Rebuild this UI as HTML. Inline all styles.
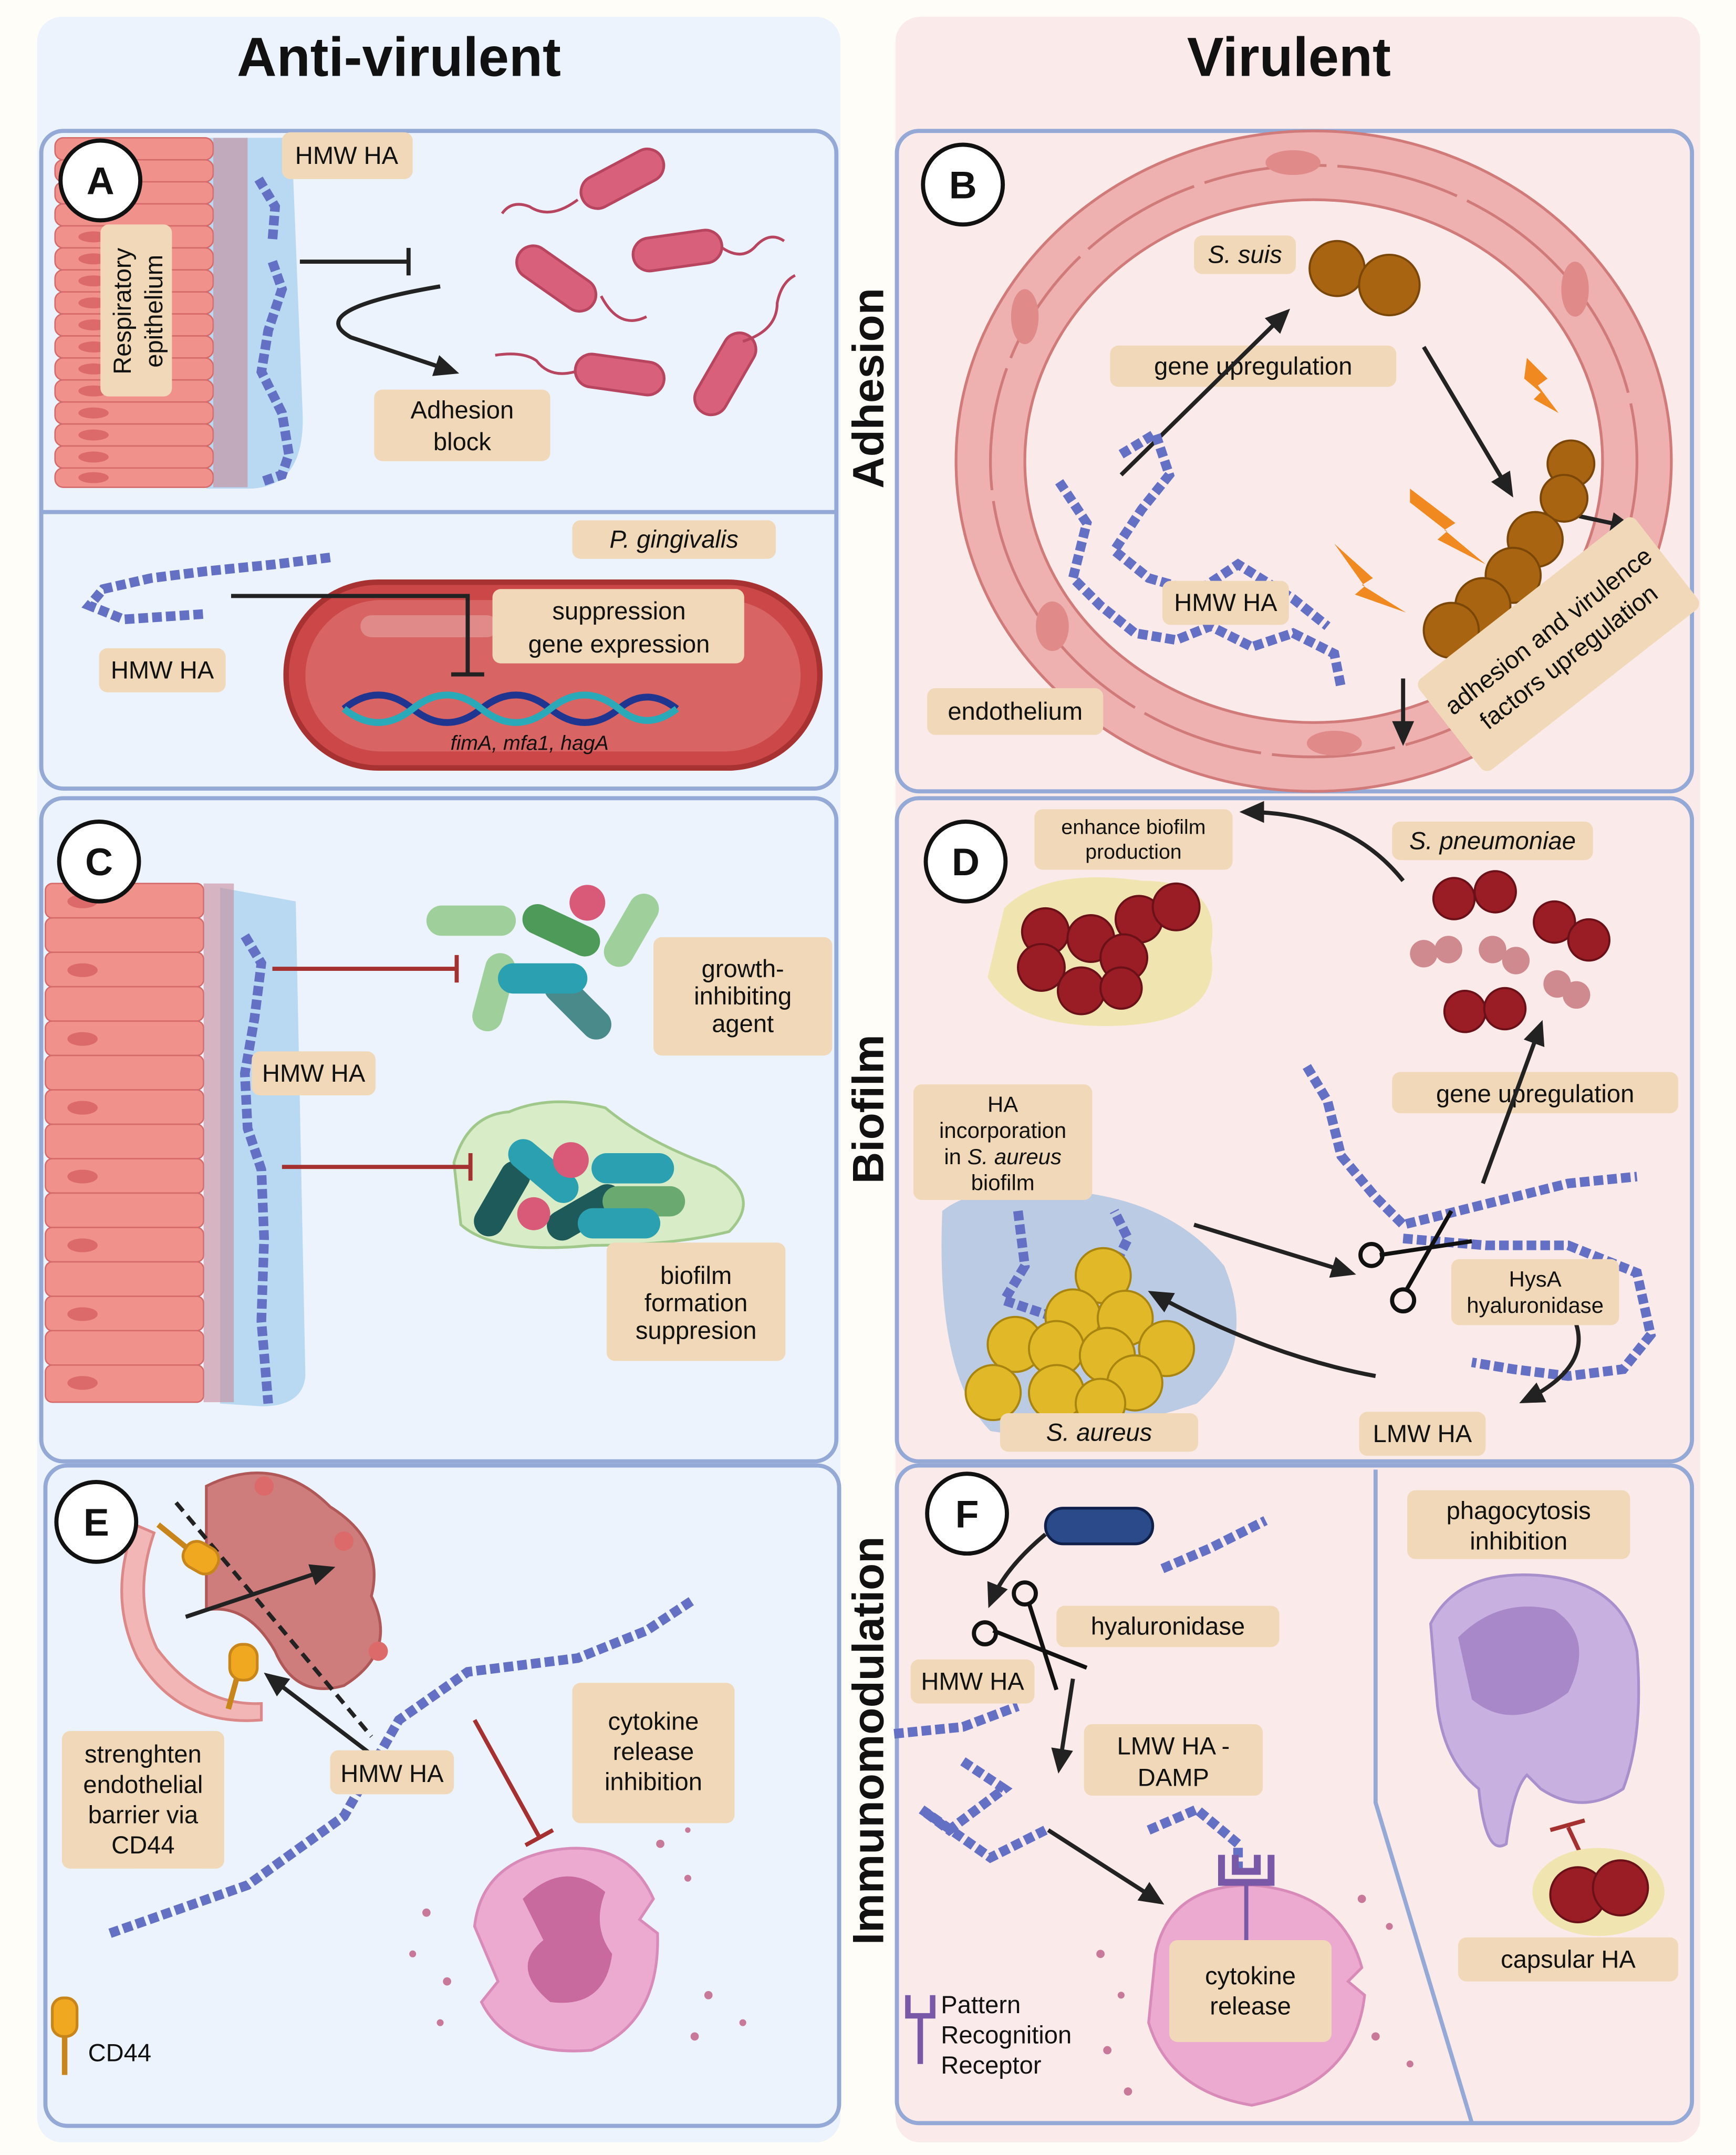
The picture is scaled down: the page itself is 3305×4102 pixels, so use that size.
<!DOCTYPE html>
<html><head><meta charset="utf-8"><style>
html,body{margin:0;padding:0;background:#fff}
svg{display:block}
text{font-family:"Liberation Sans",Arial,sans-serif;fill:#111}
.lb{fill:#f0d8b8}
.ha{fill:none;stroke:#6470c4;stroke-width:7;stroke-dasharray:7 3}
.panel{fill:none;stroke:#94a9d6;stroke-width:3}
.cell{fill:#f0918c;stroke:#d46a6a;stroke-width:1}
.nuc{fill:#dc6a6a}
.bact{fill:#d8607a;stroke:#b84560;stroke-width:2}
.ar{stroke:#222;stroke-width:3;fill:none}
.rd{stroke:#a53030;stroke-width:3;fill:none}
.t{font-size:18px}
</style></head><body>
<svg width="3305" height="4102" viewBox="0 0 1262 1566" xmlns="http://www.w3.org/2000/svg">
<defs>
<marker id="ah2" markerWidth="20" markerHeight="20" refX="14" refY="10" orient="auto" markerUnits="userSpaceOnUse"><path d="M0,2 L18,10 L0,18 z" fill="#222"/></marker>
</defs>
<rect width="1262" height="1566" fill="#fffdf7"/>
<rect x="27" y="12" width="584" height="1545" rx="18" fill="#ecf3fc"/>
<rect x="651" y="12" width="585" height="1545" rx="18" fill="#fbeaea"/>
<text x="290" y="55" font-size="40" font-weight="bold" text-anchor="middle">Anti-virulent</text>
<text x="937" y="55" font-size="40" font-weight="bold" text-anchor="middle">Virulent</text>
<text transform="translate(642,282) rotate(-90)" font-size="32" font-weight="bold" text-anchor="middle">Adhesion</text>
<text transform="translate(642,806) rotate(-90)" font-size="32" font-weight="bold" text-anchor="middle">Biofilm</text>
<text transform="translate(642,1265) rotate(-90)" font-size="32" font-weight="bold" text-anchor="middle">Immunomodulation</text>

<!-- Panel A -->
<rect x="30" y="95" width="578" height="478" rx="16" fill="#edf4fd" class="panel"/>
<line x1="30" y1="372" x2="608" y2="372" stroke="#94a9d6" stroke-width="3"/>
<path d="M150,100 L212,100 L220,300 Q222,355 180,355 L150,355 Z" fill="#b9d9f3"/>
<g>
<rect class="cell" x="40" y="100" width="115" height="16" rx="6"/><rect class="cell" x="40" y="116" width="115" height="16" rx="6"/><rect class="cell" x="40" y="132" width="115" height="16" rx="6"/><rect class="cell" x="40" y="148" width="115" height="16" rx="6"/><rect class="cell" x="40" y="164" width="115" height="16" rx="6"/><rect class="cell" x="40" y="180" width="115" height="16" rx="6"/><rect class="cell" x="40" y="196" width="115" height="16" rx="6"/><rect class="cell" x="40" y="212" width="115" height="16" rx="6"/><rect class="cell" x="40" y="228" width="115" height="16" rx="6"/><rect class="cell" x="40" y="244" width="115" height="16" rx="6"/><rect class="cell" x="40" y="260" width="115" height="16" rx="6"/><rect class="cell" x="40" y="276" width="115" height="16" rx="6"/><rect class="cell" x="40" y="292" width="115" height="16" rx="6"/><rect class="cell" x="40" y="308" width="115" height="16" rx="6"/><rect class="cell" x="40" y="324" width="115" height="16" rx="6"/><rect class="cell" x="40" y="340" width="115" height="14" rx="6"/>
<g class="nuc"><ellipse cx="68" cy="124" rx="11" ry="4"/><ellipse cx="68" cy="140" rx="11" ry="4"/><ellipse cx="68" cy="156" rx="11" ry="4"/><ellipse cx="68" cy="172" rx="11" ry="4"/><ellipse cx="68" cy="188" rx="11" ry="4"/><ellipse cx="68" cy="204" rx="11" ry="4"/><ellipse cx="68" cy="220" rx="11" ry="4"/><ellipse cx="68" cy="236" rx="11" ry="4"/><ellipse cx="68" cy="252" rx="11" ry="4"/><ellipse cx="68" cy="268" rx="11" ry="4"/><ellipse cx="68" cy="284" rx="11" ry="4"/><ellipse cx="68" cy="300" rx="11" ry="4"/><ellipse cx="68" cy="316" rx="11" ry="4"/><ellipse cx="68" cy="332" rx="11" ry="4"/><ellipse cx="68" cy="347" rx="11" ry="4"/></g>
<rect x="155" y="100" width="25" height="254" fill="#c88a9a" opacity="0.6"/>
</g>
<path class="ha" d="M198,190 L205,210 L195,240 L190,270 L205,300 L210,330 L205,345 L190,350"/>
<path class="ha" d="M188,130 L200,150 L198,175"/>
<rect class="lb" x="73" y="163" width="52" height="125" rx="6"/>
<text transform="translate(95,226) rotate(-90)" class="t" text-anchor="middle">Respiratory</text>
<text transform="translate(118,226) rotate(-90)" class="t" text-anchor="middle">epithelium</text>
<circle cx="73" cy="131" r="29" fill="#fff" stroke="#111" stroke-width="3"/>
<text x="73" y="141" font-size="28" font-weight="bold" text-anchor="middle">A</text>
<rect class="lb" x="205" y="96" width="95" height="34" rx="6"/>
<text x="252" y="119" class="t" text-anchor="middle">HMW HA</text>
<line class="ar" x1="218" y1="190" x2="297" y2="190"/><line class="ar" x1="297" y1="180" x2="297" y2="200"/>
<path class="ar" d="M320,208 Q220,225 255,245 L330,270" marker-end="url(#ah2)"/>
<rect class="lb" x="272" y="283" width="128" height="52" rx="6"/>
<text x="336" y="304" class="t" text-anchor="middle">Adhesion</text>
<text x="336" y="327" class="t" text-anchor="middle">block</text>
<g class="bact">
<rect x="420" y="118" width="65" height="24" rx="12" transform="rotate(-28 452 130)"/>
<rect x="372" y="190" width="65" height="24" rx="12" transform="rotate(35 404 202)"/>
<rect x="460" y="170" width="65" height="24" rx="12" transform="rotate(-8 492 182)"/>
<rect x="418" y="260" width="65" height="24" rx="12" transform="rotate(8 450 272)"/>
<rect x="495" y="260" width="65" height="24" rx="12" transform="rotate(-60 527 272)"/>
</g>
<g fill="none" stroke="#b84560" stroke-width="2">
<path d="M420,145 Q400,160 385,150 Q372,145 365,155"/><path d="M437,215 Q450,240 470,230"/>
<path d="M525,180 Q540,190 550,178 Q560,168 570,175"/><path d="M418,270 Q400,275 390,262 Q380,255 360,258"/>
<path d="M540,248 Q565,240 565,220 Q568,205 578,200"/>
</g>
<rect class="lb" x="416" y="378" width="148" height="28" rx="6"/>
<text x="490" y="398" class="t" font-style="italic" text-anchor="middle">P. gingivalis</text>
<path class="ha" d="M240,405 L200,410 L150,415 L110,420 L75,428 L65,440 L90,450 L150,446"/>
<rect class="lb" x="72" y="471" width="92" height="32" rx="6"/>
<text x="118" y="493" class="t" text-anchor="middle">HMW HA</text>
<rect x="208" y="423" width="388" height="135" rx="67" fill="#cc4848" stroke="#a83232" stroke-width="4"/>
<rect x="222" y="436" width="360" height="110" rx="55" fill="#d86464"/>
<rect x="262" y="447" width="100" height="16" rx="8" fill="#e69a9a" opacity="0.7"/>
<path class="ar" d="M168,433 L340,433 L340,490"/><line class="ar" x1="328" y1="490" x2="352" y2="490"/>
<rect class="lb" x="358" y="428" width="183" height="54" rx="6"/>
<text x="450" y="450" class="t" text-anchor="middle">suppression</text>
<text x="450" y="474" class="t" text-anchor="middle">gene expression</text>
<path d="M250,515 Q275,495 300,515 Q325,535 350,515 Q375,495 400,515 Q425,535 450,515 Q470,498 492,515" stroke="#1f3590" stroke-width="5" fill="none"/>
<path d="M250,515 Q275,535 300,515 Q325,495 350,515 Q375,535 400,515 Q425,495 450,515 Q470,532 492,515" stroke="#2aaab8" stroke-width="5" fill="none"/>
<text x="385" y="545" font-size="15" font-style="italic" text-anchor="middle">fimA, mfa1, hagA</text>

<!-- Panel C -->
<rect x="30" y="580" width="578" height="482" rx="16" fill="#edf4fd" class="panel"/>
<path d="M160,645 L215,655 L222,1000 Q220,1022 190,1022 L160,1020 Z" fill="#b9d9f3"/>
<g>
<rect class="cell" x="33" y="642" width="115" height="25" rx="5"/><rect class="cell" x="33" y="667" width="115" height="25" rx="5"/><rect class="cell" x="33" y="692" width="115" height="25" rx="5"/><rect class="cell" x="33" y="717" width="115" height="25" rx="5"/><rect class="cell" x="33" y="742" width="115" height="25" rx="5"/><rect class="cell" x="33" y="767" width="115" height="25" rx="5"/><rect class="cell" x="33" y="792" width="115" height="25" rx="5"/><rect class="cell" x="33" y="817" width="115" height="25" rx="5"/><rect class="cell" x="33" y="842" width="115" height="25" rx="5"/><rect class="cell" x="33" y="867" width="115" height="25" rx="5"/><rect class="cell" x="33" y="892" width="115" height="25" rx="5"/><rect class="cell" x="33" y="917" width="115" height="25" rx="5"/><rect class="cell" x="33" y="942" width="115" height="25" rx="5"/><rect class="cell" x="33" y="967" width="115" height="25" rx="5"/><rect class="cell" x="33" y="992" width="115" height="27" rx="5"/>
<g class="nuc"><ellipse cx="60" cy="655" rx="11" ry="5"/><ellipse cx="60" cy="705" rx="11" ry="5"/><ellipse cx="60" cy="755" rx="11" ry="5"/><ellipse cx="60" cy="805" rx="11" ry="5"/><ellipse cx="60" cy="855" rx="11" ry="5"/><ellipse cx="60" cy="905" rx="11" ry="5"/><ellipse cx="60" cy="955" rx="11" ry="5"/><ellipse cx="60" cy="1005" rx="11" ry="5"/></g>
<rect x="148" y="642" width="22" height="377" fill="#c88a9a" opacity="0.6"/>
</g>
<path class="ha" d="M178,680 L190,700 L185,740 L178,780 L180,820 L190,850 L192,900 L190,960 L195,1020"/>
<circle cx="72" cy="626" r="29" fill="#fff" stroke="#111" stroke-width="3"/>
<text x="72" y="636" font-size="28" font-weight="bold" text-anchor="middle">C</text>
<rect class="lb" x="183" y="764" width="90" height="32" rx="6"/>
<text x="228" y="786" class="t" text-anchor="middle">HMW HA</text>
<g>
<rect x="310" y="658" width="65" height="22" rx="11" fill="#9fcf9a"/>
<rect x="378" y="665" width="60" height="22" rx="11" fill="#4e9a58" transform="rotate(25 408 676)"/>
<rect x="430" y="665" width="58" height="22" rx="11" fill="#9fcf9a" transform="rotate(-60 459 676)"/>
<rect x="330" y="710" width="58" height="22" rx="11" fill="#9fcf9a" transform="rotate(-75 359 721)"/>
<rect x="390" y="720" width="60" height="22" rx="11" fill="#4b8a8a" transform="rotate(45 420 731)"/>
<rect x="362" y="700" width="65" height="22" rx="11" fill="#2aa0b0"/>
<circle cx="427" cy="656" r="13" fill="#d85a78"/>
</g>
<path d="M330,845 Q340,810 370,808 Q400,795 440,805 Q470,830 520,848 Q555,870 530,895 Q490,905 430,905 Q360,912 335,890 Z" fill="#d8ecc8" stroke="#9fc88a" stroke-width="2"/>
<g>
<rect x="335" y="860" width="60" height="22" rx="11" fill="#1f5a5a" transform="rotate(-60 365 871)"/>
<rect x="395" y="870" width="60" height="22" rx="11" fill="#1f5a5a" transform="rotate(-30 425 881)"/>
<rect x="430" y="838" width="60" height="22" rx="11" fill="#2aa0b0"/>
<rect x="438" y="862" width="60" height="22" rx="11" fill="#6aaa70"/>
<rect x="420" y="878" width="60" height="22" rx="11" fill="#2aa0b0"/>
<rect x="365" y="840" width="60" height="22" rx="11" fill="#2aa0b0" transform="rotate(40 395 851)"/>
<circle cx="415" cy="843" r="13" fill="#d85a78"/><circle cx="388" cy="882" r="12" fill="#d85a78"/>
</g>
<line class="rd" x1="198" y1="704" x2="332" y2="704"/><line class="rd" x1="332" y1="694" x2="332" y2="714"/>
<line class="rd" x1="205" y1="848" x2="342" y2="848"/><line class="rd" x1="342" y1="838" x2="342" y2="858"/>
<rect class="lb" x="475" y="681" width="130" height="86" rx="6"/>
<text x="540" y="710" class="t" text-anchor="middle">growth-</text>
<text x="540" y="730" class="t" text-anchor="middle">inhibiting</text>
<text x="540" y="750" class="t" text-anchor="middle">agent</text>
<rect class="lb" x="441" y="903" width="130" height="86" rx="6"/>
<text x="506" y="933" class="t" text-anchor="middle">biofilm</text>
<text x="506" y="953" class="t" text-anchor="middle">formation</text>
<text x="506" y="973" class="t" text-anchor="middle">suppresion</text>

<!-- Panel E -->
<rect x="33" y="1065" width="577" height="480" rx="16" fill="#edf4fd" class="panel"/>
<path d="M150,1080 Q200,1055 240,1095 Q280,1120 270,1160 Q290,1200 250,1225 Q215,1235 200,1200 Q180,1165 150,1170 Z" fill="#cf7c7c" stroke="#b05858" stroke-width="2"/>
<path d="M98,1108 Q78,1160 100,1205 Q130,1255 190,1250 L190,1238 Q145,1240 114,1198 Q96,1160 112,1114 Z" fill="#f3b6b6" stroke="#d88" stroke-width="2"/>
<g class="nuc"><circle cx="192" cy="1080" r="7"/><circle cx="250" cy="1120" r="7"/><circle cx="275" cy="1200" r="7"/></g>
<line x1="128" y1="1092" x2="270" y2="1262" stroke="#222" stroke-width="3" stroke-dasharray="8 5"/>
<line class="ar" x1="135" y1="1175" x2="240" y2="1140" marker-end="url(#ah2)"/>
<line class="ar" x1="270" y1="1275" x2="195" y2="1218" marker-end="url(#ah2)"/>
<g fill="#f0a820" stroke="#c8851a" stroke-width="2"><rect x="133" y="1122" width="26" height="20" rx="9" transform="rotate(30 146 1132)"/><rect x="167" y="1195" width="20" height="26" rx="9"/></g>
<line x1="115" y1="1108" x2="136" y2="1125" stroke="#c8851a" stroke-width="4"/><line x1="172" y1="1220" x2="166" y2="1242" stroke="#c8851a" stroke-width="4"/>
<path class="ha" d="M80,1405 L180,1370 L250,1320 L290,1250 L340,1215 L420,1205 L470,1185 L505,1162"/>
<circle cx="70" cy="1106" r="29" fill="#fff" stroke="#111" stroke-width="3"/>
<text x="70" y="1116" font-size="28" font-weight="bold" text-anchor="middle">E</text>
<rect class="lb" x="45" y="1258" width="118" height="100" rx="6"/>
<text x="104" y="1281" class="t" text-anchor="middle">strenghten</text>
<text x="104" y="1303" class="t" text-anchor="middle">endothelial</text>
<text x="104" y="1325" class="t" text-anchor="middle">barrier via</text>
<text x="104" y="1347" class="t" text-anchor="middle">CD44</text>
<rect class="lb" x="240" y="1272" width="90" height="32" rx="6"/>
<text x="285" y="1295" class="t" text-anchor="middle">HMW HA</text>
<rect class="lb" x="416" y="1223" width="118" height="102" rx="6"/>
<text x="475" y="1257" class="t" text-anchor="middle">cytokine</text>
<text x="475" y="1279" class="t" text-anchor="middle">release</text>
<text x="475" y="1301" class="t" text-anchor="middle">inhibition</text>
<line class="rd" x1="345" y1="1250" x2="392" y2="1335"/><line class="rd" x1="382" y1="1341" x2="402" y2="1330"/>
<path d="M345,1400 Q350,1355 400,1345 Q455,1335 475,1380 L465,1395 L478,1405 Q480,1470 430,1490 Q370,1495 350,1455 L362,1440 Z" fill="#ecaad0" stroke="#d88ab8" stroke-width="2"/>
<path d="M380,1380 Q410,1350 440,1375 Q430,1400 445,1420 Q440,1460 400,1455 Q370,1430 395,1410 Z" fill="#c86a9e"/>
<g fill="#c87898"><circle cx="310" cy="1390" r="3"/><circle cx="300" cy="1420" r="2.5"/><circle cx="325" cy="1440" r="3"/><circle cx="480" cy="1340" r="3"/><circle cx="500" cy="1365" r="2.5"/><circle cx="515" cy="1450" r="3"/><circle cx="540" cy="1470" r="2.5"/><circle cx="505" cy="1480" r="3"/><circle cx="320" cy="1470" r="2.5"/><circle cx="500" cy="1330" r="2"/></g>
<rect x="38" y="1452" width="18" height="28" rx="8" fill="#f0a820" stroke="#c8851a" stroke-width="2"/>
<line x1="47" y1="1480" x2="47" y2="1508" stroke="#c8851a" stroke-width="4"/>
<text x="64" y="1498" class="t">CD44</text>

<!-- Panel B -->
<rect x="652" y="95" width="578" height="480" rx="16" fill="#fbeaea" class="panel"/>
<ellipse cx="955" cy="335" rx="235" ry="215" fill="none" stroke="#efb0b0" stroke-width="50"/>
<ellipse cx="955" cy="335" rx="235" ry="215" fill="none" stroke="#d07a7a" stroke-width="2" stroke-dasharray="90 8"/>
<ellipse cx="955" cy="335" rx="210" ry="190" fill="none" stroke="#d07a7a" stroke-width="2"/>
<ellipse cx="955" cy="335" rx="260" ry="240" fill="none" stroke="#d07a7a" stroke-width="2"/>
<g fill="#e08a8a"><ellipse cx="940" cy="118" rx="20" ry="9"/><ellipse cx="745" cy="230" rx="10" ry="20"/><ellipse cx="1145" cy="210" rx="10" ry="20"/><ellipse cx="765" cy="455" rx="12" ry="18"/><ellipse cx="970" cy="540" rx="20" ry="9"/></g>
<circle cx="700" cy="134" r="29" fill="#fff" stroke="#111" stroke-width="3"/>
<text x="700" y="144" font-size="28" font-weight="bold" text-anchor="middle">B</text>
<rect class="lb" x="868" y="171" width="74" height="28" rx="6"/>
<text x="905" y="191" class="t" font-style="italic" text-anchor="middle">S. suis</text>
<g fill="#a86410" stroke="#7a4708" stroke-width="1.5"><circle cx="972" cy="195" r="20"/><circle cx="1010" cy="207" r="22"/></g>
<rect class="lb" x="807" y="251" width="208" height="30" rx="6"/>
<text x="911" y="272" class="t" text-anchor="middle">gene upregulation</text>
<line class="ar" x1="815" y1="345" x2="935" y2="227" marker-end="url(#ah2)"/>
<line class="ar" x1="1035" y1="252" x2="1098" y2="358" marker-end="url(#ah2)"/>
<line class="ar" x1="1148" y1="375" x2="1185" y2="383" marker-end="url(#ah2)"/>
<line class="ar" x1="1020" y1="493" x2="1020" y2="538" marker-end="url(#ah2)"/>
<path class="ha" d="M770,350 L790,380 L780,420 L800,440 L825,460 L855,465 L880,455 L910,470 L940,460 L970,475 L975,500"/>
<path class="ha" d="M815,330 L840,315 L850,345 L830,370 L810,400 L835,420 L870,430 L900,410 L940,435 L965,455"/>
<g fill="#f08a20"><path d="M1110,260 L1125,275 L1118,280 L1133,300 L1115,290 L1120,285 L1108,275 Z"/><path d="M1025,355 L1058,380 L1050,385 L1080,410 L1045,392 L1052,386 L1025,365 Z"/><path d="M970,395 L998,420 L990,425 L1022,445 L985,432 L992,426 Z"/></g>
<g fill="#a86410" stroke="#7a4708" stroke-width="1.5"><circle cx="1142" cy="337" r="17"/><circle cx="1137" cy="362" r="17"/><circle cx="1116" cy="392" r="20"/><circle cx="1100" cy="418" r="20"/><circle cx="1078" cy="440" r="20"/><circle cx="1055" cy="458" r="20"/></g>
<rect class="lb" x="845" y="422" width="92" height="32" rx="6"/>
<text x="891" y="444" class="t" text-anchor="middle">HMW HA</text>
<rect class="lb" x="674" y="500" width="128" height="34" rx="6"/>
<text x="738" y="523" class="t" text-anchor="middle">endothelium</text>
<g transform="translate(1133,468) rotate(-38)">
<rect x="-100" y="-42" width="200" height="84" rx="6" class="lb"/>
<text x="0" y="-6" class="t" text-anchor="middle">adhesion and virulence</text>
<text x="0" y="18" class="t" text-anchor="middle">factors upregulation</text>
</g>

<!-- Panel D -->
<rect x="652" y="580" width="578" height="482" rx="16" fill="#fbeaea" class="panel"/>
<circle cx="702" cy="626" r="29" fill="#fff" stroke="#111" stroke-width="3"/>
<text x="702" y="636" font-size="28" font-weight="bold" text-anchor="middle">D</text>
<rect class="lb" x="752" y="588" width="144" height="44" rx="6"/>
<text x="824" y="606" font-size="15" text-anchor="middle">enhance biofilm</text>
<text x="824" y="624" font-size="15" text-anchor="middle">production</text>
<path d="M730,660 Q760,630 830,640 Q890,640 880,690 Q890,740 820,745 Q740,750 718,710 Z" fill="#f0e4b0"/>
<g fill="#9a1c24" stroke="#6a1018" stroke-width="1.5"><circle cx="760" cy="677" r="17"/><circle cx="793" cy="682" r="17"/><circle cx="828" cy="668" r="17"/><circle cx="855" cy="659" r="17"/><circle cx="757" cy="703" r="17"/><circle cx="817" cy="696" r="17"/><circle cx="786" cy="720" r="17"/><circle cx="815" cy="718" r="15"/></g>
<path class="ar" d="M1020,640 Q980,590 905,590" marker-end="url(#ah2)" stroke-width="2"/>
<rect class="lb" x="1012" y="597" width="146" height="28" rx="6"/>
<text x="1085" y="617" class="t" font-style="italic" text-anchor="middle">S. pneumoniae</text>
<g fill="#9a1c24" stroke="#6a1018" stroke-width="1.5"><circle cx="1057" cy="653" r="15"/><circle cx="1087" cy="648" r="15"/><circle cx="1130" cy="670" r="15"/><circle cx="1155" cy="683" r="15"/><circle cx="1065" cy="735" r="15"/><circle cx="1094" cy="733" r="15"/></g>
<g fill="#cf8a8f"><circle cx="1035" cy="693" r="10"/><circle cx="1053" cy="690" r="10"/><circle cx="1085" cy="690" r="10"/><circle cx="1102" cy="698" r="10"/><circle cx="1132" cy="715" r="10"/><circle cx="1146" cy="723" r="10"/></g>
<rect class="lb" x="1012" y="779" width="208" height="30" rx="6"/>
<text x="1116" y="801" class="t" text-anchor="middle">gene upregulation</text>
<line class="ar" x1="1078" y1="860" x2="1120" y2="745" marker-end="url(#ah2)"/>
<path class="ha" d="M950,775 L965,800 L975,840 L1000,870 L1020,890 L1060,880 L1100,870 L1140,860 L1190,855"/>
<path class="ha" d="M1020,900 L1080,905 L1140,905 L1190,925 L1200,970 L1180,995 L1140,1000 L1100,995 L1070,990"/>
<path d="M685,880 Q710,860 770,865 Q850,870 890,920 Q915,980 870,1020 Q780,1050 720,1040 Q680,1000 685,880 Z" fill="#bccbe4"/>
<path class="ha" d="M740,880 L745,920 L730,945 L760,955 L800,940 L820,900 L810,880"/>
<g fill="#e0b828" stroke="#a88410" stroke-width="1.5"><circle cx="802" cy="927" r="20"/><circle cx="780" cy="957" r="20"/><circle cx="818" cy="958" r="20"/><circle cx="738" cy="977" r="20"/><circle cx="768" cy="980" r="20"/><circle cx="805" cy="985" r="20"/><circle cx="848" cy="980" r="20"/><circle cx="722" cy="1012" r="20"/><circle cx="768" cy="1012" r="20"/><circle cx="825" cy="1005" r="20"/><circle cx="800" cy="1020" r="18"/></g>
<rect class="lb" x="664" y="788" width="130" height="84" rx="6"/>
<text x="729" y="808" font-size="16" text-anchor="middle">HA</text>
<text x="729" y="827" font-size="16" text-anchor="middle">incorporation</text>
<text x="729" y="846" font-size="16" text-anchor="middle">in <tspan font-style="italic">S. aureus</tspan></text>
<text x="729" y="865" font-size="16" text-anchor="middle">biofilm</text>
<rect class="lb" x="727" y="1027" width="144" height="28" rx="6"/>
<text x="799" y="1047" class="t" font-style="italic" text-anchor="middle">S. aureus</text>
<line class="ar" x1="868" y1="890" x2="982" y2="925" marker-end="url(#ah2)"/>
<path class="ar" d="M1000,1000 Q920,985 838,940" marker-end="url(#ah2)" stroke-width="2"/>
<path class="ar" d="M1140,950 Q1165,990 1108,1018" marker-end="url(#ah2)" stroke-width="2"/>
<g stroke="#111" stroke-width="3" fill="none"><circle cx="997" cy="912" r="8"/><circle cx="1020" cy="945" r="8"/><line x1="1003" y1="912" x2="1070" y2="902"/><line x1="1022" y1="938" x2="1055" y2="880"/></g>
<rect class="lb" x="1055" y="915" width="122" height="48" rx="6"/>
<text x="1116" y="935" font-size="16" text-anchor="middle">HysA</text>
<text x="1116" y="954" font-size="16" text-anchor="middle">hyaluronidase</text>
<rect class="lb" x="988" y="1026" width="92" height="32" rx="6"/>
<text x="1034" y="1048" class="t" text-anchor="middle">LMW HA</text>

<!-- Panel F -->
<rect x="652" y="1065" width="578" height="478" rx="16" fill="#fbeaea" class="panel"/>
<path d="M1000,1068 L1000,1310 L1070,1543" stroke="#94a9d6" stroke-width="3" fill="none"/>
<circle cx="703" cy="1100" r="29" fill="#fff" stroke="#111" stroke-width="3"/>
<text x="703" y="1110" font-size="28" font-weight="bold" text-anchor="middle">F</text>
<rect x="760" y="1096" width="78" height="26" rx="13" fill="#2a4a8a" stroke="#10204a" stroke-width="2"/>
<path class="ha" d="M845,1140 L880,1125 L920,1105"/>
<path class="ha" d="M650,1260 L700,1255 L740,1240"/>
<path class="ha" d="M700,1280 L730,1300 L690,1330 L670,1315 L720,1350 L760,1330"/>
<path class="ha" d="M835,1330 L870,1315 L900,1340 L900,1360"/>
<path class="ar" d="M760,1115 Q730,1140 720,1165" marker-end="url(#ah2)" stroke-width="2"/>
<line class="ar" x1="780" y1="1220" x2="770" y2="1285" marker-end="url(#ah2)"/>
<line class="ar" x1="762" y1="1330" x2="843" y2="1382" marker-end="url(#ah2)"/>
<g stroke="#111" stroke-width="3" fill="none"><circle cx="745" cy="1158" r="8"/><circle cx="716" cy="1187" r="8"/><line x1="748" y1="1165" x2="768" y2="1228"/><line x1="722" y1="1185" x2="790" y2="1212"/></g>
<rect class="lb" x="768" y="1167" width="162" height="30" rx="6"/>
<text x="849" y="1188" class="t" text-anchor="middle">hyaluronidase</text>
<rect class="lb" x="662" y="1206" width="90" height="32" rx="6"/>
<text x="707" y="1228" class="t" text-anchor="middle">HMW HA</text>
<rect class="lb" x="788" y="1253" width="130" height="52" rx="6"/>
<text x="853" y="1275" class="t" text-anchor="middle">LMW HA -</text>
<text x="853" y="1298" class="t" text-anchor="middle">DAMP</text>
<path d="M840,1420 Q850,1370 910,1370 Q975,1375 990,1430 L980,1440 L992,1450 Q985,1515 910,1530 Q850,1520 835,1470 Z" fill="#ecaad0" stroke="#d88ab8" stroke-width="2"/>
<path d="M888,1348 L888,1368 L924,1368 L924,1348 M898,1348 L898,1360 L914,1360 L914,1348" stroke="#7a58a8" stroke-width="5" fill="none"/>
<line x1="906" y1="1368" x2="906" y2="1420" stroke="#7a58a8" stroke-width="3"/>
<rect class="lb" x="850" y="1410" width="118" height="74" rx="6"/>
<text x="909" y="1442" class="t" text-anchor="middle">cytokine</text>
<text x="909" y="1464" class="t" text-anchor="middle">release</text>
<g fill="#c87898"><circle cx="800" cy="1420" r="3"/><circle cx="815" cy="1450" r="2.5"/><circle cx="805" cy="1490" r="3"/><circle cx="990" cy="1380" r="3"/><circle cx="1010" cy="1400" r="2.5"/><circle cx="1000" cy="1480" r="3"/><circle cx="1025" cy="1500" r="2.5"/><circle cx="820" cy="1520" r="3"/></g>
<path d="M660,1450 L660,1465 L678,1465 L678,1450 M669,1465 L669,1500" stroke="#7a58a8" stroke-width="4" fill="none"/>
<text x="684" y="1463" class="t">Pattern</text>
<text x="684" y="1485" class="t">Recognition</text>
<text x="684" y="1507" class="t">Receptor</text>
<rect class="lb" x="1023" y="1083" width="162" height="50" rx="6"/>
<text x="1104" y="1104" class="t" text-anchor="middle">phagocytosis</text>
<text x="1104" y="1126" class="t" text-anchor="middle">inhibition</text>
<path d="M1040,1180 Q1060,1140 1120,1145 Q1180,1150 1190,1200 Q1195,1260 1180,1300 Q1150,1320 1120,1300 L1110,1290 Q1100,1300 1095,1340 Q1080,1350 1075,1300 Q1050,1280 1045,1240 Z" fill="#c8b0e0" stroke="#a890cc" stroke-width="2"/>
<path d="M1060,1190 Q1090,1160 1130,1170 Q1160,1190 1140,1230 Q1100,1260 1070,1235 Z" fill="#a888c8"/>
<line class="rd" x1="1148" y1="1345" x2="1140" y2="1328"/><line class="rd" x1="1127" y1="1330" x2="1152" y2="1323"/>
<ellipse cx="1162" cy="1375" rx="48" ry="32" fill="#f0e4b0"/>
<g fill="#9a1c24" stroke="#6a1018" stroke-width="1.5"><circle cx="1147" cy="1377" r="20"/><circle cx="1178" cy="1372" r="20"/></g>
<rect class="lb" x="1060" y="1408" width="160" height="32" rx="6"/>
<text x="1140" y="1430" class="t" text-anchor="middle">capsular HA</text>
</svg>
</body></html>
